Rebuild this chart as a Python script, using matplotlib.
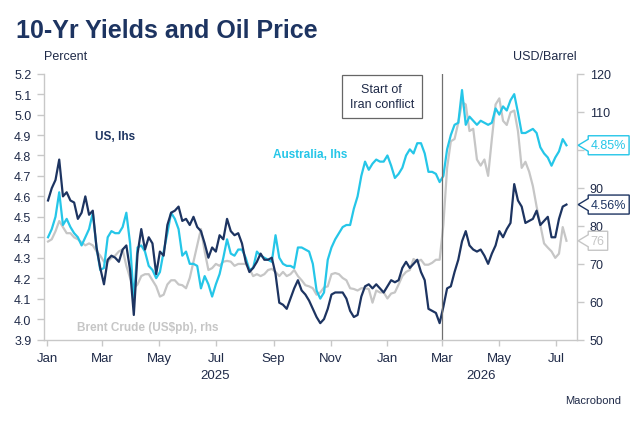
import pandas as pd
import matplotlib
matplotlib.use("Agg")
import matplotlib.pyplot as plt
import matplotlib.dates as mdates
from matplotlib.patches import Polygon
from matplotlib.transforms import IdentityTransform

plt.rcParams['font.family'] = ['Liberation Sans', 'DejaVu Sans']

# sampled every 4 days from 2 Jan 2025
dates = pd.date_range('2025-01-02', periods=140, freq='4D')

us = [4.58, 4.64, 4.68, 4.78, 4.60, 4.62, 4.58, 4.57, 4.49, 4.52,
      4.60, 4.51, 4.53, 4.35, 4.25, 4.17, 4.29, 4.31, 4.30, 4.28,
      4.34, 4.36, 4.24, 4.02, 4.32, 4.44, 4.34, 4.40, 4.37, 4.22,
      4.33, 4.31, 4.46, 4.52, 4.53, 4.55, 4.48, 4.49, 4.46, 4.50,
      4.45, 4.43, 4.37, 4.30, 4.35, 4.33, 4.41, 4.39, 4.49, 4.43,
      4.41, 4.42, 4.37, 4.28, 4.23, 4.25, 4.28, 4.32, 4.29, 4.29,
      4.30, 4.22, 4.08, 4.07, 4.05, 4.10, 4.15, 4.19, 4.14, 4.12,
      4.09, 4.05, 4.01, 3.98, 4.00, 4.05, 4.12, 4.13, 4.13, 4.13,
      4.10, 4.04, 4.01, 4.02, 4.11, 4.16, 4.17, 4.15, 4.17, 4.15,
      4.13, 4.16, 4.19, 4.18, 4.19, 4.25, 4.28, 4.25, 4.27, 4.29,
      4.23, 4.19, 4.05, 4.04, 4.03, 3.98, 4.06, 4.15, 4.16, 4.23,
      4.29, 4.38, 4.43, 4.36, 4.34, 4.33, 4.34, 4.31, 4.27, 4.32,
      4.36, 4.43, 4.40, 4.44, 4.47, 4.66, 4.58, 4.55, 4.47, 4.48,
      4.49, 4.53, 4.46, 4.48, 4.50, 4.40, 4.40, 4.49, 4.55, 4.56]

australia = [4.40, 4.44, 4.50, 4.62, 4.46, 4.49, 4.45, 4.42, 4.40, 4.36,
             4.40, 4.44, 4.52, 4.35, 4.24, 4.25, 4.40, 4.43, 4.42, 4.42,
             4.45, 4.52, 4.37, 4.09, 4.35, 4.36, 4.33, 4.26, 4.24, 4.20,
             4.23, 4.33, 4.42, 4.52, 4.49, 4.44, 4.31, 4.33, 4.27, 4.27,
             4.26, 4.15, 4.21, 4.17, 4.11, 4.17, 4.22, 4.30, 4.39, 4.32,
             4.31, 4.34, 4.34, 4.30, 4.24, 4.25, 4.33, 4.31, 4.30, 4.29,
             4.28, 4.41, 4.30, 4.27, 4.26, 4.26, 4.25, 4.35, 4.35, 4.34,
             4.33, 4.27, 4.14, 4.10, 4.13, 4.29, 4.35, 4.39, 4.42, 4.45,
             4.46, 4.46, 4.54, 4.60, 4.70, 4.77, 4.73, 4.76, 4.78, 4.77,
             4.77, 4.80, 4.75, 4.69, 4.71, 4.74, 4.80, 4.83, 4.81, 4.86,
             4.86, 4.81, 4.72, 4.72, 4.71, 4.67, 4.70, 4.83, 4.90, 4.95,
             4.96, 5.12, 4.95, 4.99, 4.97, 4.95, 4.97, 4.96, 4.95, 4.96,
             5.03, 5.00, 5.04, 5.02, 5.07, 5.10, 5.01, 4.91, 4.91, 4.92,
             4.93, 4.91, 4.84, 4.81, 4.79, 4.75, 4.79, 4.82, 4.88, 4.85]

brent = [75.8, 76.4, 78.5, 81.2, 79.6, 78.0, 78.0, 76.9, 76.4, 75.6,
         74.8, 75.3, 74.8, 73.2, 72.1, 70.5, 70.5, 71.5, 72.1, 73.2,
         73.7, 69.4, 66.2, 63.5, 64.5, 66.7, 67.2, 67.2, 65.6, 64.0,
         61.3, 61.8, 64.5, 65.6, 65.6, 64.5, 64.3, 63.5, 66.2, 70.5,
         74.8, 79.1, 73.2, 68.3, 68.8, 69.9, 69.4, 70.5, 70.7, 70.5,
         69.4, 69.9, 69.9, 69.9, 68.6, 66.7, 67.2, 66.7, 67.2, 68.3,
         68.6, 67.8, 66.7, 67.8, 66.7, 67.2, 68.3, 66.7, 65.6, 64.3,
         64.0, 63.5, 61.8, 62.4, 63.7, 64.0, 67.2, 67.5, 67.2, 66.2,
         65.6, 63.5, 63.3, 62.9, 63.5, 63.5, 63.3, 59.7, 62.9, 62.4,
         62.4, 60.8, 62.1, 62.4, 64.5, 66.7, 67.8, 68.3, 71.2, 70.5,
         71.0, 69.7, 69.7, 70.2, 71.0, 71.0, 80.2, 95.2, 102.2, 102.8,
         107.1, 112.5, 111.9, 104.9, 105.5, 97.4, 95.8, 97.4, 93.1, 102.8,
         111.9, 113.5, 107.6, 106.5, 109.8, 110.3, 104.9, 95.2, 96.8, 94.2,
         90.4, 85.0, 80.2, 75.3, 74.2, 73.2, 71.5, 72.6, 79.6, 76.0]

rhs_ticks = [50, 60, 70, 80, 90, 100, 110, 120]
# the 100 label sits behind the Australia callout in the original
rhs_labels = ['50', '60', '70', '80', '90', '', '110', '120']

conflict_date = pd.Timestamp('2026-02-28')

NAVY = '#1d3461'
CYAN = '#25c6e8'
GREY = '#c6c6c6'
AXIS = '#c8c8c8'
TXT = '#1f2a48'

W, H = 642, 427
fig = plt.figure(figsize=(W / 100, H / 100), dpi=100)
ax = fig.add_axes([44.3 / W, (H - 340.5) / H, (576.7 - 44.3) / W, (340.5 - 74.7) / H])
ax2 = ax.twinx()
ax.set_zorder(ax2.get_zorder() + 1)
ax.patch.set_visible(False)

ax2.plot(dates, brent, color=GREY, lw=1.6)
ax.plot(dates, australia, color=CYAN, lw=1.6)
ax.plot(dates, us, color=NAVY, lw=1.6)
ax.axvline(conflict_date, color='#707070', lw=0.9)

ax.set_xlim(pd.Timestamp('2024-12-29'), pd.Timestamp('2026-07-23'))
ax.set_ylim(3.9, 5.2)
ax2.set_ylim(50, 120)
ax.set_yticks([3.9 + 0.1 * i for i in range(14)])
ax.yaxis.set_major_formatter(plt.FormatStrFormatter('%.1f'))
ax2.set_yticks(rhs_ticks)
ax2.set_yticklabels(rhs_labels)

ax.xaxis.set_major_locator(mdates.MonthLocator(bymonth=[1, 3, 5, 7, 9, 11]))
ax.xaxis.set_major_formatter(mdates.DateFormatter('%b'))

for s in ['top', 'right']:
    ax.spines[s].set_visible(False)
for s in ['top', 'left', 'bottom']:
    ax2.spines[s].set_visible(False)
for sp in [ax.spines['left'], ax.spines['bottom'], ax2.spines['right']]:
    sp.set_color(AXIS)
    sp.set_linewidth(1.0)

ax.tick_params(axis='y', length=5, width=1, color=AXIS, labelcolor=TXT,
               labelsize=9, pad=4.3)
ax2.tick_params(axis='y', length=5, width=1, color=AXIS, labelcolor=TXT,
                labelsize=9, pad=4.3)
ax.tick_params(axis='x', length=4, width=1, color=AXIS, labelcolor=TXT,
               labelsize=9.5, pad=5)

# year labels centred under each year's span
xt = ax.get_xaxis_transform()
ax.text(pd.Timestamp('2025-06-30'), -0.132, '2025', transform=xt,
        ha='center', va='center', fontsize=9.5, color=TXT)
ax.text(pd.Timestamp('2026-04-11'), -0.132, '2026', transform=xt,
        ha='center', va='center', fontsize=9.5, color=TXT)

# series labels
ax.text(pd.Timestamp('2025-02-21'), 4.895, 'US, lhs', color=NAVY,
        fontsize=8.5, weight='bold', va='center')
ax.text(pd.Timestamp('2025-08-31'), 4.807, 'Australia, lhs', color=CYAN,
        fontsize=8.5, weight='bold', va='center')
ax2.text(pd.Timestamp('2025-02-02'), 53.3, 'Brent Crude (US$pb), rhs',
         color=GREY, fontsize=8.5, weight='bold', va='center')

ax.text(pd.Timestamp('2025-12-26'), 5.089, 'Start of\nIran conflict',
        ha='center', va='center', fontsize=9, color=TXT, linespacing=1.25,
        bbox=dict(boxstyle='square,pad=0.65', fc='white', ec='#666666', lw=0.9),
        zorder=5)

# titles and captions
fig.text(16 / W, 1 - 31.5 / H, '10-Yr Yields and Oil Price', fontsize=18,
         weight='bold', color=NAVY, va='center', ha='left')
fig.text(44 / W, 1 - 57.5 / H, 'Percent', fontsize=9, color=TXT,
         va='center', ha='left')
fig.text(576.7 / W, 1 - 57.5 / H, 'USD/Barrel', fontsize=9, color=TXT,
         va='center', ha='right')
fig.text(621 / W, 1 - 401 / H, 'Macrobond', fontsize=8, color=TXT,
         va='center', ha='right')

# last-value callouts on the right axis
fig.canvas.draw()
renderer = fig.canvas.get_renderer()
spine_x = ax.transAxes.transform((1, 0))[0]
callouts = [(ax, australia[-1], f'{australia[-1]:.2f}%', CYAN),
            (ax, us[-1], f'{us[-1]:.2f}%', NAVY),
            (ax2, brent[-1], f'{brent[-1]:.0f}', GREY)]
for a, val, label, col in callouts:
    yc = a.transData.transform((0, val))[1]
    tip = spine_x + 1.5
    left = tip + 10
    t = fig.text((left + 2.5) / W, yc / H, label, fontsize=9, color=col,
                 va='center', ha='left', zorder=6)
    bb = t.get_window_extent(renderer)
    right = bb.x1 + 3
    verts = [(tip, yc), (left, yc + 6), (left, yc + 9.5), (right, yc + 9.5),
             (right, yc - 9.5), (left, yc - 9.5), (left, yc - 6)]
    fig.add_artist(Polygon(verts, closed=True, fc='white', ec=col, lw=1.0,
                           transform=IdentityTransform(), zorder=5))

fig.savefig('out.png', dpi=100)
